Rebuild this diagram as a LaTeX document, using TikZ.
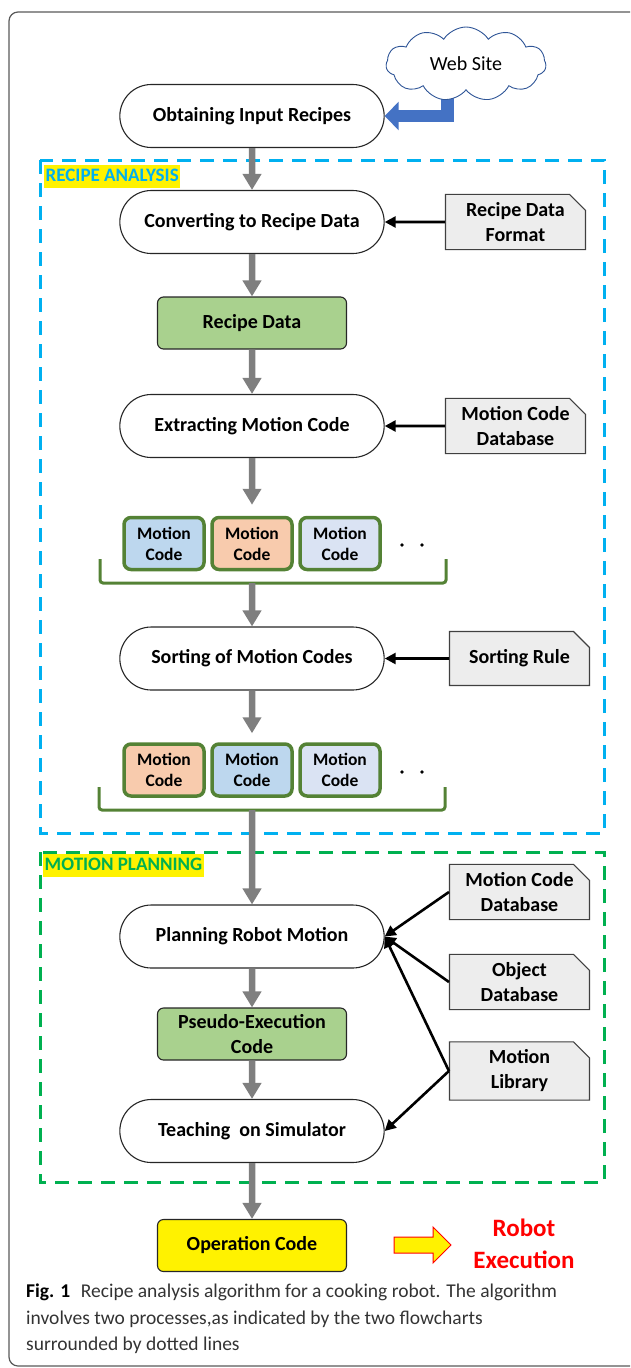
\documentclass[tikz,border=0pt]{standalone}
\usepackage{fontspec}
\setmainfont{Carlito}
\usetikzlibrary{%
  positioning
 ,arrows.meta
 ,shapes.misc
 ,shapes.symbols
 ,shapes.arrows
 ,backgrounds
}
\definecolor{boxgray}{HTML}{EDEDED}
\definecolor{flowgray}{HTML}{7F7F7F}
\definecolor{anblue}{HTML}{00B0F0}
\definecolor{plgreen}{HTML}{00B050}
\definecolor{codegreen}{HTML}{548235}
\definecolor{datagreen}{HTML}{A9D18E}
\definecolor{mcblue}{HTML}{BDD7EE}
\definecolor{mcpeach}{HTML}{F8CBAD}
\definecolor{mclight}{HTML}{DAE3F3}
\definecolor{webblue}{HTML}{4472C4}
\definecolor{cloudline}{HTML}{2F5597}
\tikzstyle{flow}=[x=1pt,y=-1pt,on grid,font=\bfseries\fontsize{20}{25}\selectfont]
\tikzstyle{term}=[rounded rectangle,draw=black!85,line width=1.1pt,fill=white,minimum width=271pt,minimum height=63pt]
\tikzstyle{data}=[rectangle,rounded corners=6pt,draw=black!85,line width=1.1pt,fill=datagreen,minimum width=189pt,minimum height=52pt,align=center]
\tikzstyle{doc}=[chamfered rectangle,chamfered rectangle corners=north east,chamfered rectangle xsep=8pt,chamfered rectangle ysep=8pt,draw=black!75,line width=1.1pt,fill=boxgray,minimum width=140pt,minimum height=54pt,inner sep=0pt,align=center]
\tikzstyle{mc}=[rectangle,rounded corners=7pt,draw=codegreen,line width=3.5pt,minimum width=80pt,minimum height=52pt,inner sep=0pt,align=center,font=\bfseries\fontsize{17.5}{21}\selectfont]
\tikzstyle{down}=[draw=flowgray,line width=6.5pt,-{Triangle[length=16pt,width=18pt]}]
\tikzstyle{feed}=[draw=black,line width=2.6pt,-{Triangle[length=11pt,width=11pt]}]
\tikzstyle{brace}=[draw=codegreen,line width=3pt,rounded corners=3pt]
\tikzstyle{area}=[line width=3pt,dash pattern=on 14pt off 9pt]
\tikzstyle{tag}=[anchor=north west,fill=yellow,inner sep=1.5pt,text height=15pt,text depth=5pt,font=\bfseries\fontsize{19}{22}\selectfont]

\begin{document}
\begin{tikzpicture}[flow]
  \useasboundingbox (0,0) rectangle (630,1368);
  \clip (0,0) rectangle (630,1368);
  % frame and the two dashed areas
  \draw[black!65,line width=1.2pt,rounded corners=9pt] (9,12) rectangle (660,1366);
  \draw[area,anblue] (40,160) rectangle (604,833);
  \draw[area,plgreen] (40,852) rectangle (604,1182);
  \node[tag,text=anblue] (ratag) at (44,165) {RECIPE ANALYSIS};
  \node[tag,text=plgreen] (mptag) at (43,854) {MOTION PLANNING};

  % main column
  \node[term] (obtain) at (252,116) {Obtaining Input Recipes};
  \node[term,below=106pt of obtain] (convert) {Converting to Recipe Data};
  \node[data,below=101pt of convert] (rdata) {Recipe Data};
  \node[term,below=103pt of rdata] (extract) {Extracting Motion Code};
  \node[mc,fill=mcpeach,below=117.5pt of extract] (mcb) {Motion\\Code};
  \node[mc,fill=mcblue,left=88pt of mcb] (mca) {Motion\\Code};
  \node[mc,fill=mclight,right=88pt of mcb] (mcc) {Motion\\Code};
  \node[term,below=115pt of mcb] (sort) {Sorting of Motion Codes};
  \node[mc,fill=mcblue,below=111.5pt of sort] (mce) {Motion\\Code};
  \node[mc,fill=mcpeach,left=88pt of mce] (mcd) {Motion\\Code};
  \node[mc,fill=mclight,right=88pt of mce] (mcf) {Motion\\Code};
  \node[term,below=166.5pt of mce] (plan) {Planning Robot Motion};
  \node[data,below=97.5pt of plan] (pseudo) {Pseudo-Execution\\Code};
  \node[term,below=97pt of pseudo] (teach) {Teaching~ on Simulator};
  \node[data,fill=yellow,below=114.5pt of teach] (opcode) {Operation Code};

  % inputs on the right
  \node[cloud,draw=cloudline,fill=white,line width=0.9pt,cloud puffs=11,cloud puff arc=115,aspect=2.1,minimum width=160pt,minimum height=74pt,inner sep=0pt,font=\fontsize{20}{24}\selectfont] (web) at (466,64) {Web Site};
  \node[doc,right=263.5pt of convert] (rdf) {Recipe Data\\Format};
  \node[doc,right=263.5pt of extract] (mcdb) {Motion Code\\Database};
  \node[doc,right=267.5pt of sort] (rule) {Sorting Rule};
  \node[doc] (mcdbb) at (519.5,892) {Motion Code\\Database};
  \node[doc] (objdb) at (519.5,982) {Object\\Database};
  \node[doc] (mlib) at (519.5,1071) {Motion\\Library};

  % brackets under the motion codes
  \draw[brace] (100,559) -- (100,583) -- (446,583) -- (446,559);
  \draw[brace] (99,787) -- (99,810) -- (445,810) -- (445,787);
  \coordinate (bra) at (252,583);
  \coordinate (brb) at (252,810);
  \fill (402,545) circle (1.9) (422,545) circle (1.9);
  \fill (402,772) circle (1.9) (422,772) circle (1.9);

  % output
  \node[single arrow,draw=red,fill=yellow,line width=1pt,minimum height=57pt,single arrow head extend=10pt,inner sep=7.5pt] (go) at (418.5,1245) {};
  \node[text=red,align=center,font=\bfseries\fontsize{25}{32}\selectfont] (robot) at (524,1244) {Robot\\Execution};

  % caption
  \node[anchor=north west,align=left,inner sep=0pt,font=\normalfont\fontsize{19.5}{26.5}\selectfont] (caption) at (26,1284)
    {\textbf{Fig. 1}\hspace{0.55em}{\color{black!80}Recipe analysis algorithm for a cooking robot. The algorithm}\\
     {\color{black!80}involves two processes,as indicated by the two flowcharts}\\
     {\color{black!80}surrounded by dotted lines}};

  % connectors
  \begin{scope}[on background layer]
    \draw[webblue,line width=12.5pt,-{Triangle[length=14pt,width=28pt]}] ([xshift=-18.5pt,yshift=8pt]web.south) |- (obtain.east);
  \end{scope}
  \draw[down] (obtain) -- (convert);
  \draw[down] (convert) -- (rdata);
  \draw[down] (rdata) -- (extract);
  \draw[down,shorten >=11pt] (extract) -- (mcb);
  \draw[down] (bra) -- (sort);
  \draw[down,shorten >=9pt] (sort) -- (mce);
  \draw[down] (brb) -- (plan);
  \draw[down] (plan) -- (pseudo);
  \draw[down] (pseudo) -- (teach);
  \draw[down] (teach) -- (opcode);
  \draw[feed] (rdf) -- (convert);
  \draw[feed] (mcdb) -- (extract);
  \draw[feed] (rule) -- (sort);
  \draw[feed] (mcdbb.west) -- (plan.east);
  \draw[feed] (objdb.west) -- (plan.east);
  \draw[feed] (mlib.west) -- (plan.east);
  \draw[feed] (mlib.west) -- (teach.east);
\end{tikzpicture}
\end{document}
